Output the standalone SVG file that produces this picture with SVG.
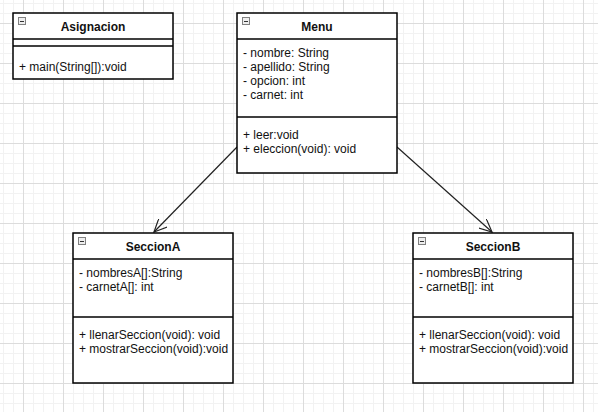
<svg xmlns="http://www.w3.org/2000/svg" width="598" height="412" viewBox="0 0 598 412">
<defs>
<pattern id="minor" x="3" y="3" width="10" height="10" patternUnits="userSpaceOnUse">
<path d="M0,0.5 H10 M0.5,0 V10" stroke="#f2f2f2" stroke-width="1" fill="none"/>
</pattern>
<pattern id="major" x="23" y="23" width="40" height="40" patternUnits="userSpaceOnUse">
<path d="M0,0.5 H40 M0.5,0 V40" stroke="#dcdcdc" stroke-width="1" fill="none"/>
</pattern>
<marker id="open" viewBox="0 0 14 12" refX="13" refY="6" markerWidth="14" markerHeight="12" markerUnits="userSpaceOnUse" orient="auto">
<path d="M0,0 L13,6 L0,12" fill="none" stroke="#222" stroke-width="1.2"/>
</marker>
<g id="icon">
<rect x="0.5" y="0.5" width="7" height="7" fill="#eeeeee" stroke="#808080" stroke-width="1"/>
<path d="M2,4.5 H6" stroke="#333" stroke-width="1"/>
</g>
</defs>
<style>
.box{fill:#ffffff;stroke:#000000;stroke-width:1.5}
.sep{stroke:#000000;stroke-width:1.5}
.t{font-family:"Liberation Sans",Arial,sans-serif;font-size:12px;fill:#111}
.h{font-family:"Liberation Sans",Arial,sans-serif;font-size:12px;font-weight:bold;fill:#111;text-anchor:middle}
.c{fill:none;stroke:#222;stroke-width:1.2;marker-end:url(#open)}
</style>
<rect width="598" height="412" fill="#ffffff"/>
<rect width="598" height="412" fill="url(#minor)"/>
<rect width="598" height="412" fill="url(#major)"/>

<g id="connectors">
<line class="c" x1="237" y1="147" x2="154" y2="232"/>
<line class="c" x1="397" y1="147" x2="492" y2="232"/>
</g>

<g id="Asignacion">
<rect class="box" x="13" y="13" width="160" height="66"/>
<line class="sep" x1="13" y1="39" x2="173" y2="39"/>
<line class="sep" x1="13" y1="46" x2="173" y2="46"/>
<use href="#icon" x="18" y="17"/>
<text class="h" x="93" y="31">Asignacion</text>
<text class="t" x="19" y="71">+ main(String[]):void</text>
</g>

<g id="Menu">
<rect class="box" x="237" y="13" width="160" height="160"/>
<line class="sep" x1="237" y1="39" x2="397" y2="39"/>
<line class="sep" x1="237" y1="117" x2="397" y2="117"/>
<use href="#icon" x="242" y="17"/>
<text class="h" x="317" y="31">Menu</text>
<text class="t" x="243" y="57">- nombre: String</text>
<text class="t" x="243" y="71">- apellido: String</text>
<text class="t" x="243" y="85">- opcion: int</text>
<text class="t" x="243" y="99">- carnet: int</text>
<text class="t" x="243" y="139">+ leer:void</text>
<text class="t" x="243" y="153">+ eleccion(void): void</text>
</g>

<g id="SeccionA">
<rect class="box" x="73" y="233" width="160" height="150"/>
<line class="sep" x1="73" y1="259" x2="233" y2="259"/>
<line class="sep" x1="73" y1="317" x2="233" y2="317"/>
<use href="#icon" x="78" y="237"/>
<text class="h" x="153" y="251">SeccionA</text>
<text class="t" x="79" y="277">- nombresA[]:String</text>
<text class="t" x="79" y="291">- carnetA[]: int</text>
<text class="t" x="79" y="339">+ llenarSeccion(void): void</text>
<text class="t" x="79" y="353">+ mostrarSeccion(void):void</text>
</g>

<g id="SeccionB">
<rect class="box" x="413" y="233" width="160" height="150"/>
<line class="sep" x1="413" y1="259" x2="573" y2="259"/>
<line class="sep" x1="413" y1="317" x2="573" y2="317"/>
<use href="#icon" x="418" y="237"/>
<text class="h" x="493" y="251">SeccionB</text>
<text class="t" x="419" y="277">- nombresB[]:String</text>
<text class="t" x="419" y="291">- carnetB[]: int</text>
<text class="t" x="419" y="339">+ llenarSeccion(void): void</text>
<text class="t" x="419" y="353">+ mostrarSeccion(void):void</text>
</g>
</svg>
